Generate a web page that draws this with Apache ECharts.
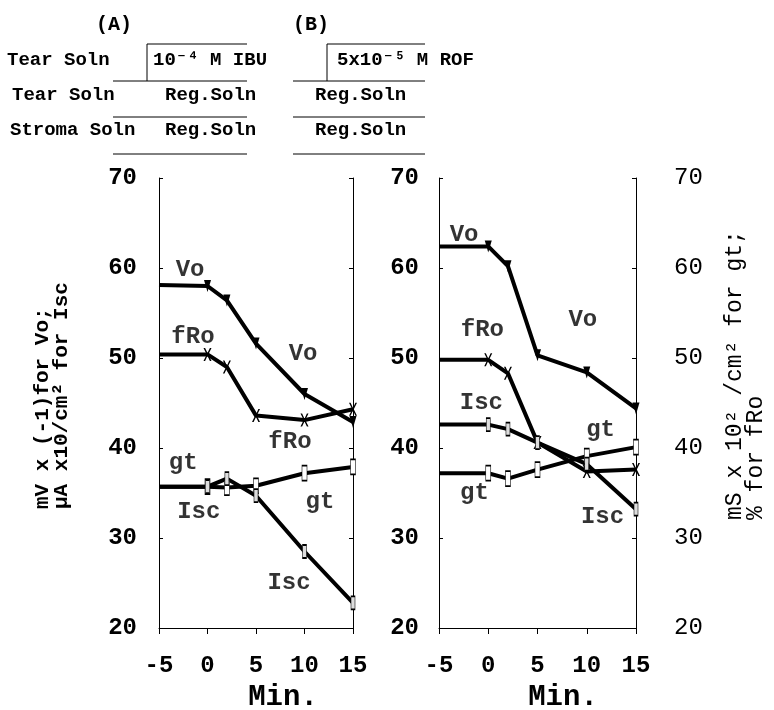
<!DOCTYPE html>
<html>
<head>
<meta charset="utf-8">
<script src="https://cdn.jsdelivr.net/npm/echarts@6/dist/echarts.min.js"></script>
<style>html,body{margin:0;padding:0;background:#fff}#c{width:774px;height:710px}</style>
</head>
<body>
<div id="c"></div>
<script>
// ---- data ----
const times = [-5, 0, 2, 5, 10, 15];
const xTicks = [-5, 0, 5, 10, 15];
const yTicks = [20, 30, 40, 50, 60, 70];

const voA  = [58.1, 58.0, 56.4, 51.6, 46.0, 42.9];
const fRoA = [50.4, 50.4, 49.0, 43.6, 43.1, 44.3];
const gtA  = [35.7, 35.7, 35.6, 35.8, 37.2, 37.9];
const iscA = [35.7, 35.7, 36.6, 34.7, 28.5, 22.8];

const voB  = [62.4, 62.4, 60.2, 50.3, 48.4, 44.4];
const fRoB = [49.8, 49.8, 48.3, 40.6, 37.4, 37.6];
const gtB  = [37.2, 37.2, 36.6, 37.6, 39.1, 40.1];
const iscB = [42.6, 42.6, 42.1, 40.6, 38.2, 33.2];

const annTextA = ['Vo', 'fRo', 'Vo', 'fRo', 'gt', 'Isc', 'gt', 'Isc'];
const annXA    = [-1.8, -1.5, 9.85, 8.5, -2.5, -0.9, 11.6, 8.4];
const annYA    = [59.8, 52.3, 50.4, 40.7, 38.3, 32.9, 34.0, 25.0];

const annTextB = ['Vo', 'fRo', 'Vo', 'Isc', 'gt', 'gt', 'Isc'];
const annXB    = [-2.45, -0.6, 9.6, -0.7, 11.4, -1.4, 11.6];
const annYB    = [63.7, 53.1, 54.2, 45.0, 42.0, 35.0, 32.3];

// ---- styling ----
const FONT = '"Courier New", "Liberation Mono", monospace';
const xSymbol = 'path://M0,0L2,0L5,4L8,0L10,0L6,5L10,10L8,10L5,6L2,10L0,10L4,5Z';

function lineSeries(vals, xi, kind) {
  const sym = {
    vo:  { symbol: 'triangle', symbolSize: [7, 12], itemStyle: { color: '#000' }, symbolRotate: 180 },
    fro: { symbol: xSymbol, symbolSize: [8, 13], itemStyle: { color: '#000' } },
    gt:  { symbol: 'rect', symbolSize: [5, 15], itemStyle: { color: '#fff', borderColor: '#000', borderWidth: 1 } },
    isc: { symbol: 'rect', symbolSize: [4, 13], itemStyle: { color: '#ddd', borderColor: '#000', borderWidth: 1 } }
  }[kind];
  return Object.assign({
    type: 'line',
    xAxisIndex: xi, yAxisIndex: xi * 2,
    data: times.map((t, i) => i === 0 ? { value: [t, vals[i]], symbol: 'none' } : [t, vals[i]]),
    lineStyle: { color: '#000', width: 4 },
    showAllSymbol: true,
    animation: false,
    z: kind === 'gt' || kind === 'isc' ? 3 : 2
  }, sym);
}

function annSeries(texts, xs, ys, xi) {
  return {
    type: 'scatter', xAxisIndex: xi, yAxisIndex: xi * 2,
    symbolSize: 0, animation: false, silent: true, z: 5,
    data: texts.map((t, i) => ({ name: t, value: [xs[i], ys[i]] })),
    label: { show: true, position: 'inside', formatter: p => p.name,
      fontFamily: FONT, fontSize: 24, fontWeight: 'bold', color: '#000' }
  };
}

function xAxis(gi) {
  return {
    type: 'value', gridIndex: gi, min: -5, max: 15, interval: 5,
    axisLine: { show: true, onZero: false, lineStyle: { color: '#000', width: 1 } },
    axisTick: { show: true, inside: false, length: 6, lineStyle: { color: '#000' } },
    splitLine: { show: false },
    axisLabel: { fontFamily: FONT, fontSize: 24, fontWeight: 'bold', color: '#000', margin: 26,
      formatter: v => xTicks.includes(v) ? String(v) : '' }
  };
}
function yAxis(gi, pos, showLabel, bold, margin) {
  return {
    type: 'value', gridIndex: gi, position: pos, min: 20, max: 70, interval: 10,
    axisLine: { show: true, onZero: false, lineStyle: { color: '#000', width: 1 } },
    axisTick: { show: true, inside: true, length: 4, lineStyle: { color: '#000' } },
    splitLine: { show: false },
    axisLabel: { show: showLabel, fontFamily: FONT, fontSize: 24, fontWeight: bold ? 'bold' : 'normal',
      color: '#000', margin: margin, formatter: v => yTicks.includes(v) ? String(v) : '' }
  };
}

function txt(x, y, s, opts) {
  return Object.assign({ type: 'text', x: x, y: y, silent: true,
    style: Object.assign({ text: s, fontFamily: FONT, fontSize: 19, fontWeight: 'bold',
      fill: '#000', textVerticalAlign: 'middle', verticalAlign: 'middle' }, opts || {}) });
}
function ln(x1, y1, x2, y2) {
  return { type: 'line', silent: true, shape: { x1, y1, x2, y2 }, style: { stroke: '#000', lineWidth: 1 } };
}

const graphics = [
  txt(114, 25, '(A)', { textAlign: 'center', align: 'center', fontSize: 20 }),
  txt(311, 25, '(B)', { textAlign: 'center', align: 'center', fontSize: 20 }),
  txt(7, 60, 'Tear Soln'),
  txt(153, 60, '10⁻⁴ M IBU'),
  txt(12, 95, 'Tear Soln'),
  txt(165, 95, 'Reg.Soln'),
  txt(10, 130, 'Stroma Soln'),
  txt(165, 130, 'Reg.Soln'),
  txt(337, 60, '5x10⁻⁵ M ROF'),
  txt(315, 95, 'Reg.Soln'),
  txt(315, 130, 'Reg.Soln'),
  ln(147, 44, 247, 44), ln(147, 44, 147, 81), ln(113, 81, 247, 81),
  ln(113, 117, 247, 117), ln(113, 154, 247, 154),
  ln(327, 44, 425, 44), ln(327, 44, 327, 81), ln(293, 81, 425, 81),
  ln(293, 117, 425, 117), ln(293, 154, 425, 154),
  txt(283, 698, 'Min.', { fontSize: 29, textAlign: 'center', align: 'center' }),
  txt(563, 698, 'Min.', { fontSize: 29, textAlign: 'center', align: 'center' }),
  Object.assign(txt(43, 509, 'mV x (-1)for Vo;', { fontSize: 21 }), { rotation: Math.PI / 2 }),
  Object.assign(txt(62, 509, 'μA x10/cm² for Isc', { fontSize: 21 }), { rotation: Math.PI / 2 }),
  Object.assign(txt(735, 520, 'mS x 10² /cm² for gt;', { fontSize: 23, fontWeight: 'normal' }), { rotation: Math.PI / 2 }),
  Object.assign(txt(756, 520, '% for fRo', { fontSize: 23, fontWeight: 'normal' }), { rotation: Math.PI / 2 })
];

const chart = echarts.init(document.getElementById('c'), null, { renderer: 'canvas' });
chart.setOption({
  backgroundColor: '#fff',
  animation: false,
  grid: [
    { left: 159, right: 774 - 353, top: 178, bottom: 710 - 628 },
    { left: 439, right: 774 - 636, top: 178, bottom: 710 - 628 }
  ],
  xAxis: [xAxis(0), xAxis(1)],
  yAxis: [
    yAxis(0, 'left', true, true, 22),
    yAxis(0, 'right', false, false, 10),
    yAxis(1, 'left', true, true, 20),
    yAxis(1, 'right', true, false, 38)
  ],
  series: [
    lineSeries(voA, 0, 'vo'), lineSeries(fRoA, 0, 'fro'), lineSeries(gtA, 0, 'gt'), lineSeries(iscA, 0, 'isc'),
    lineSeries(voB, 1, 'vo'), lineSeries(fRoB, 1, 'fro'), lineSeries(gtB, 1, 'gt'), lineSeries(iscB, 1, 'isc'),
    annSeries(annTextA, annXA, annYA, 0), annSeries(annTextB, annXB, annYB, 1)
  ],
  graphic: graphics
});
</script>
</body>
</html>
